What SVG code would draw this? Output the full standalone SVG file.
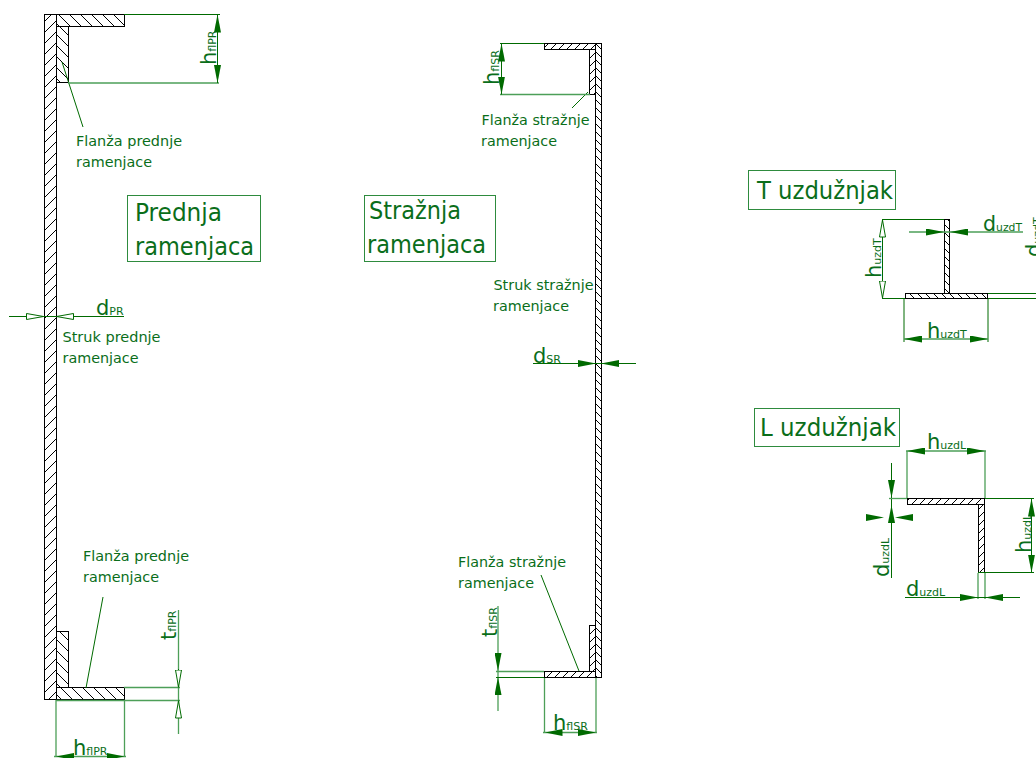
<svg xmlns="http://www.w3.org/2000/svg" width="1036" height="758" viewBox="0 0 1036 758">
<style>
text{font-family:"DejaVu Sans","Noto Sans",sans-serif;fill:#0a6e1a}
.lab{font-size:14px}
.ttl{font-size:24px}
.dim{font-size:21px}
.dim tspan{font-size:11px}
.box{fill:none;stroke:#2e8b3e;stroke-width:1}
.ln{fill:none;stroke:#006a00;stroke-width:1}
.lt{fill:none;stroke:#4d9f58;stroke-width:1.3}
.ar{fill:none;stroke:none}
.s{stroke:#000;stroke-width:1}
</style>
<defs>
<pattern id="hf" width="11" height="11" patternUnits="userSpaceOnUse"><path d="M-1 1L1 -1M0 11L11 0M10 12L12 10" stroke="#000" stroke-width="1"/></pattern>
<pattern id="hb" width="11" height="11" patternUnits="userSpaceOnUse"><path d="M-1 10L1 12M0 0L11 11M10 -1L12 1" stroke="#000" stroke-width="1"/></pattern>
<pattern id="tf" width="8" height="8" patternUnits="userSpaceOnUse"><path d="M-1 1L1 -1M0 8L8 0M7 9L9 7" stroke="#000" stroke-width="1"/></pattern>
<pattern id="tb" width="8" height="8" patternUnits="userSpaceOnUse"><path d="M-1 7L1 9M0 0L8 8M7 -1L9 1" stroke="#000" stroke-width="1"/></pattern>
<marker id="af" viewBox="0 0 18 7" markerUnits="userSpaceOnUse" markerWidth="18" markerHeight="7" refX="18" refY="3.5" orient="auto-start-reverse"><path d="M0 0L18 3.5L0 7Z" fill="#006a00"/></marker>
<marker id="ah" viewBox="0 0 18 7" markerUnits="userSpaceOnUse" markerWidth="18" markerHeight="7" refX="18" refY="3.5" orient="auto-start-reverse"><path d="M.5 .5L17.5 3.5L.5 6.5Z" fill="#fff" stroke="#006a00" stroke-width="1"/></marker>
</defs>
<rect width="1036" height="758" fill="#fff"/>
<g id="prednja-ramenjaca">
<rect class="s" x="44.5" y="14.5" width="12" height="685" fill="url(#hf)"/>
<rect class="s" x="56.5" y="14.5" width="68" height="12" fill="url(#hb)"/>
<rect class="s" x="56.5" y="26.5" width="12" height="56" fill="url(#hb)"/>
<rect class="s" x="56.5" y="631.5" width="12" height="56" fill="url(#hb)"/>
<rect class="s" x="56.5" y="687.5" width="68" height="12" fill="url(#hb)"/>
</g>
<g id="straznja-ramenjaca">
<rect class="s" x="595.5" y="43.5" width="6" height="634" fill="url(#tb)"/>
<rect class="s" x="544.5" y="43.5" width="51" height="6" fill="url(#tf)"/>
<rect class="s" x="589.5" y="49.5" width="6" height="45" fill="url(#tf)"/>
<rect class="s" x="589.5" y="625.5" width="6" height="46" fill="url(#tf)"/>
<rect class="s" x="544.5" y="671.5" width="51" height="6" fill="url(#tf)"/>
</g>
<g id="t-uzduznjak">
<rect class="s" x="944.5" y="219.5" width="5" height="74" fill="url(#tb)"/>
<rect class="s" x="905.5" y="293.5" width="82" height="5" fill="url(#tb)"/>
</g>
<g id="l-uzduznjak">
<rect class="s" x="907.5" y="498.5" width="77" height="6" fill="url(#tf)"/>
<rect class="s" x="978.5" y="504.5" width="6" height="68" fill="url(#tf)"/>
</g>
<g id="connectors">
<path class="ln" d="M124 14.500H220M62 62L83 127"/>
<path class="lt" d="M68 83H219"/>
<path class="ln" d="M217.500 14.500V83" marker-start="url(#af)" marker-end="url(#af)"/>
<path class="ln" d="M9 316.500H124"/>
<path class="ln" d="M27 316.500H44" marker-end="url(#ah)"/>
<path class="ln" d="M74 316.500H56" marker-end="url(#ah)"/>
<path class="ln" d="M103 597L86 688"/>
<path class="lt" d="M178.500 610V734M124 687.500H180M56 700.500H180M56 700V757M124.500 700V757"/>
<path class="ln" d="M178.500 669V687.500" marker-end="url(#ah)"/>
<path class="ln" d="M178.500 718V700.500" marker-end="url(#ah)"/>
<path class="lt" d="M54 756.500H126"/>
<path class="ar" d="M74 756.500H56" marker-end="url(#af)"/>
<path class="ar" d="M106 756.500H124.500" marker-end="url(#af)"/>

<path class="ln" d="M500 43.500H544M588 92L572 108"/>
<path class="lt" d="M500 94.500H590"/>
<path class="ln" d="M501.500 43.500V94.500" marker-start="url(#af)" marker-end="url(#af)"/>
<path class="ln" d="M533 363.500H636"/>
<path class="ar" d="M578 363.500H596" marker-end="url(#af)"/>
<path class="ar" d="M619 363.500H601" marker-end="url(#af)"/>
<path class="ln" d="M541 575L579 671"/>
<path class="lt" d="M498 606V711M496 671.500H544M544.500 678V733M596 678V733M543 732.500H597"/>
<path class="ln" d="M496 677.500H544"/>
<path class="ar" d="M498 653V671" marker-end="url(#af)"/>
<path class="ar" d="M498 695V677" marker-end="url(#af)"/>
<path class="ar" d="M563 732.500H544.500" marker-end="url(#af)"/>
<path class="ar" d="M578 732.500H596" marker-end="url(#af)"/>

<path class="ln" d="M882 219.500H944M882 298.500H905M988 293.500H1036M988 298.500H1036"/>
<path class="ln" d="M882.500 219.500V298.500" marker-start="url(#ah)" marker-end="url(#ah)"/>
<path class="lt" d="M909 232H1023"/>
<path class="ar" d="M926 232H944" marker-end="url(#af)"/>
<path class="ar" d="M967 232H950" marker-end="url(#af)"/>
<path class="ln" d="M904 299V342M988 299V342"/>
<path class="lt" d="M904 339H988"/>
<path class="ar" d="M922 339H904" marker-end="url(#af)"/>
<path class="ar" d="M970 339H988" marker-end="url(#af)"/>

<path class="lt" d="M907 451V498M985 451V498"/>
<path class="lt" d="M906 451H986"/>
<path class="ar" d="M925 451H907" marker-end="url(#af)"/>
<path class="ar" d="M967 451H985" marker-end="url(#af)"/>
<path class="ln" d="M891.500 463V578"/>
<path class="lt" d="M889 498.500H907"/>
<path class="ar" d="M891.500 480V498" marker-end="url(#af)"/>
<path class="ar" d="M891.500 523V505" marker-end="url(#af)"/>
<path class="ar" d="M866 517.500H884" marker-end="url(#af)"/>
<path class="ar" d="M912 517.500H895" marker-end="url(#af)"/>
<path class="ln" d="M985 498.500H1034M978 572.500H1034"/>
<path class="ln" d="M1031.500 498.500V572.500" marker-start="url(#af)" marker-end="url(#af)"/>
<path class="lt" d="M978 573V599M985 573V599"/>
<path class="ln" d="M905 597.500H1020"/>
<path class="ar" d="M960 597.500H978" marker-end="url(#af)"/>
<path class="ar" d="M1003 597.500H985" marker-end="url(#af)"/>
</g>
<g id="naslov-prednja"><rect class="box" x="127.500" y="195.500" width="133" height="66"/><text class="ttl" x="135" y="221" textLength="87" lengthAdjust="spacingAndGlyphs">Prednja</text><text class="ttl" x="135" y="255" textLength="119" lengthAdjust="spacingAndGlyphs">ramenjaca</text></g>
<g id="naslov-straznja"><rect class="box" x="364.500" y="195.500" width="131" height="66"/><text class="ttl" x="369" y="219" textLength="92" lengthAdjust="spacingAndGlyphs">Stražnja</text><text class="ttl" x="367" y="253" textLength="119" lengthAdjust="spacingAndGlyphs">ramenjaca</text></g>
<g id="naslov-t"><rect class="box" x="748.500" y="170.500" width="147" height="39"/><text class="ttl" x="757" y="199" textLength="136" lengthAdjust="spacingAndGlyphs">T uzdužnjak</text></g>
<g id="naslov-l"><rect class="box" x="754.500" y="408.500" width="145" height="38"/><text class="ttl" x="760" y="436" textLength="136" lengthAdjust="spacingAndGlyphs">L uzdužnjak</text></g>
<g id="oznake">
<text class="lab" x="76" y="146" textLength="106" lengthAdjust="spacingAndGlyphs">Flanža prednje</text><text class="lab" x="76" y="167" textLength="76" lengthAdjust="spacingAndGlyphs">ramenjace</text>
<text class="lab" x="62.500" y="342" textLength="98" lengthAdjust="spacingAndGlyphs">Struk prednje</text><text class="lab" x="62.500" y="363" textLength="76" lengthAdjust="spacingAndGlyphs">ramenjace</text>
<text class="lab" x="83" y="561" textLength="106" lengthAdjust="spacingAndGlyphs">Flanža prednje</text><text class="lab" x="83" y="582" textLength="76" lengthAdjust="spacingAndGlyphs">ramenjace</text>
<text class="lab" x="481.500" y="125" textLength="108" lengthAdjust="spacingAndGlyphs">Flanža stražnje</text><text class="lab" x="481" y="146" textLength="76" lengthAdjust="spacingAndGlyphs">ramenjace</text>
<text class="lab" x="493.500" y="290" textLength="100" lengthAdjust="spacingAndGlyphs">Struk stražnje</text><text class="lab" x="493" y="311" textLength="76" lengthAdjust="spacingAndGlyphs">ramenjace</text>
<text class="lab" x="458" y="567" textLength="108" lengthAdjust="spacingAndGlyphs">Flanža stražnje</text><text class="lab" x="458" y="588" textLength="76" lengthAdjust="spacingAndGlyphs">ramenjace</text>
<text class="dim" transform="translate(215.500 65)rotate(-90)">h<tspan>flPR</tspan></text>
<text class="dim" x="96" y="315">d<tspan>PR</tspan></text>
<text class="dim" transform="translate(176 640)rotate(-90)">t<tspan>flPR</tspan></text>
<text class="dim" x="73" y="755">h<tspan>flPR</tspan></text>
<text class="dim" transform="translate(499 85)rotate(-90)">h<tspan>flSR</tspan></text>
<text class="dim" x="533" y="363">d<tspan>SR</tspan></text>
<text class="dim" transform="translate(497 637)rotate(-90)">t<tspan>flSR</tspan></text>
<text class="dim" x="553" y="730">h<tspan>flSR</tspan></text>
<text class="dim" transform="translate(881 278)rotate(-90)">h<tspan>uzdT</tspan></text>
<text class="dim" x="983" y="231" textLength="39" lengthAdjust="spacingAndGlyphs">d<tspan>uzdT</tspan></text>
<text class="dim" transform="translate(1041 257)rotate(-90)">d<tspan>uzdT</tspan></text>
<text class="dim" x="927" y="338">h<tspan>uzdT</tspan></text>
<text class="dim" x="927" y="449">h<tspan>uzdL</tspan></text>
<text class="dim" transform="translate(889 577)rotate(-90)">d<tspan>uzdL</tspan></text>
<text class="dim" transform="translate(1031 553)rotate(-90)">h<tspan>uzdL</tspan></text>
<text class="dim" x="906" y="596">d<tspan>uzdL</tspan></text>
</g>
</svg>
